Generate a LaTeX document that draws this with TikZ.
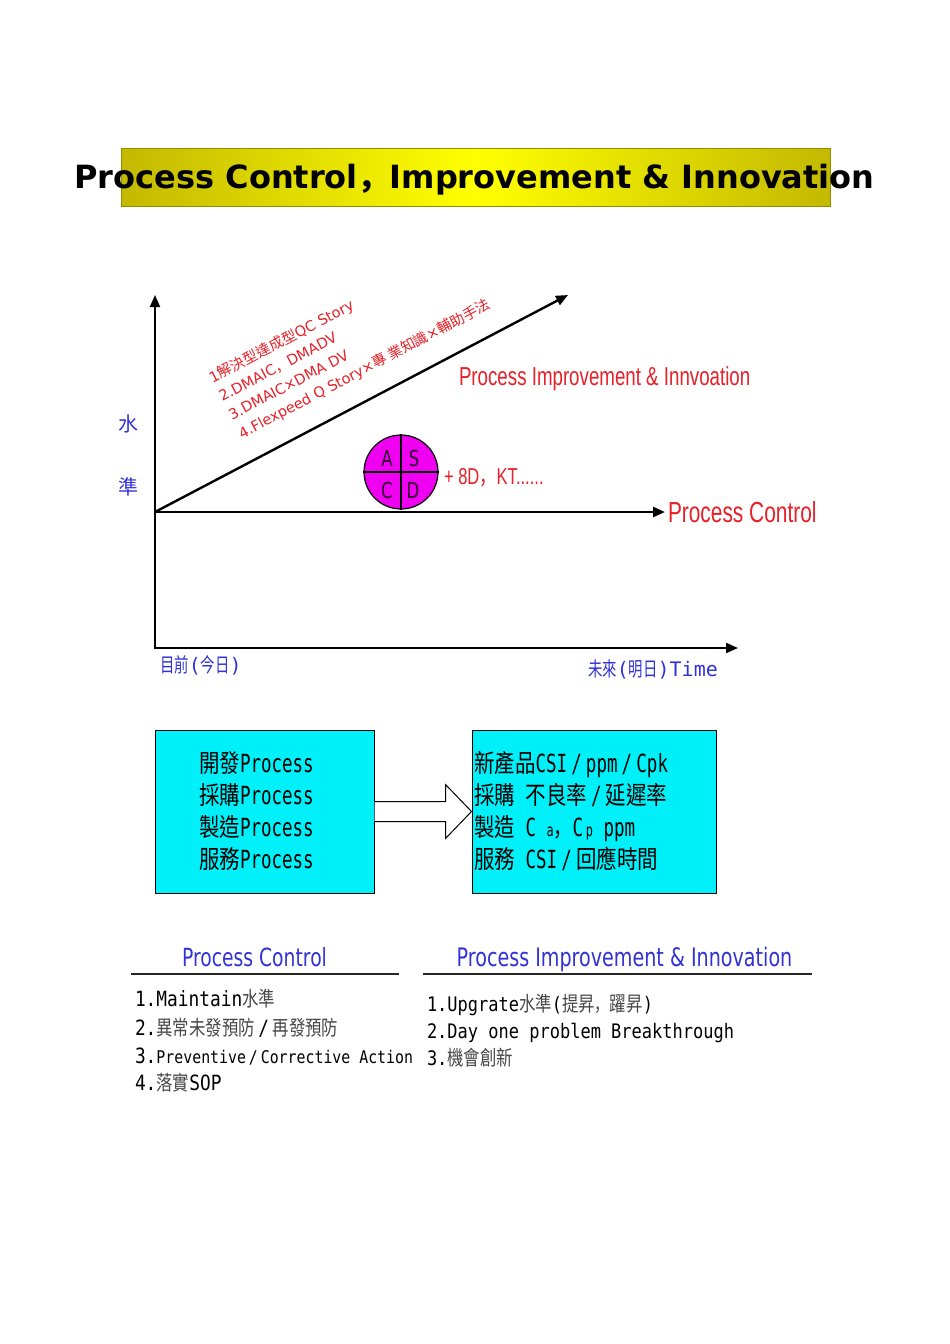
\documentclass[tikz,border=0pt]{standalone}
\usepackage{fontspec}
\usetikzlibrary{arrows.meta,calc}
\setmainfont{DejaVu Sans}
\newfontfamily\fCjk{Noto Sans CJK TC}
\newfontfamily\fCjkSC{Noto Sans CJK SC}
\newfontfamily\fCjkSCN[FakeStretch=0.75]{Noto Sans CJK SC}
\newfontfamily\fCjkN[FakeStretch=0.72]{Noto Sans CJK TC}
\newfontfamily\fCjkB[FakeStretch=0.82]{Noto Sans CJK TC}
\newfontfamily\fCjkM[FakeStretch=0.8]{Noto Sans CJK TC}
\newfontfamily\fNar[FakeStretch=0.72]{Liberation Sans}
\newfontfamily\fDVN[FakeStretch=0.75]{DejaVu Sans}
\newfontfamily\fMonoN[FakeStretch=0.7]{DejaVu Sans Mono}
\newfontfamily\fMonoL[FakeStretch=0.85]{DejaVu Sans Mono}
\newfontfamily\fMono{DejaVu Sans Mono}
\newfontfamily\fDV{DejaVu Sans}
\newcommand\zh[1]{{\fCjk #1}}
\newcommand\zn[1]{{\fCjkN #1}}
\newcommand\zb[1]{{\fCjkB #1}}
\newcommand\zcomma{{\fCjkSCN ，}}
\newcommand\zl[1]{{\fCjkM\fontsize{20.5}{22}\selectfont\color{black!72}#1}}
\definecolor{pred}{RGB}{232,32,40}
\definecolor{pblue}{RGB}{50,50,215}
\definecolor{pcyan}{RGB}{0,240,250}
\definecolor{tedge}{RGB}{195,185,0}
\definecolor{tbord}{RGB}{150,140,0}
\definecolor{pmag}{RGB}{240,0,240}
\definecolor{pdark}{RGB}{45,0,45}
\begin{document}
\begin{tikzpicture}[x=1pt,y=-1pt,
  txt/.style={inner sep=0pt, outer sep=0pt},
  axisline/.style={line width=2pt, draw=black},
  tip/.style={-{Triangle[length=12pt,width=10pt]}},
  redlab/.style={txt, anchor=base west, text=pred},
  bluelab/.style={txt, text=pblue},
  cbox/.style={draw=black, line width=1pt, fill=pcyan, minimum width=219pt, minimum height=163pt, inner sep=0pt},
  boxtext/.style={txt, anchor=base west, align=left, font=\fMonoN\fontsize{25}{32}\selectfont},
  lst/.style={txt, anchor=base west, font=\fMonoL\fontsize{21}{24}\selectfont},
  rlst/.style={txt, anchor=base west, font=\fMonoL\fontsize{20}{24}\selectfont},
  letter/.style={txt, text=pdark, font=\fDVN\fontsize{22}{24}\selectfont},
  rule/.style={line width=1.5pt, draw=black!85}
]
\useasboundingbox (0,0) rectangle (950,1344);
\fill[white] (0,0) rectangle (950,1344);

% title
\node[draw=tbord, left color=tedge, right color=tedge, middle color=yellow, minimum width=709pt, minimum height=58pt, inner sep=0pt] (tbox) at (475.5,177) {};
\node[txt, anchor=base, font=\fDV\bfseries\fontsize{32}{36}\selectfont] (title) at (474.5,188) {Process Control{\fCjkSC\bfseries ，}Improvement \& Innovation};

% axes
\coordinate (O) at (155,648);
\coordinate (Ytop) at (155,295);
\coordinate (Xend) at (738,648);
\coordinate (P0) at (155,512);
\coordinate (Pc) at (665,512);
\coordinate (Pi) at (568,295);
\draw[axisline, {Triangle[length=12pt,width=10pt]}-{Triangle[length=12pt,width=10pt]}] (Xend) -- (O) -- (Ytop);
\draw[axisline, line width=2.4pt, tip] (P0) -- (Pc);
\draw[axisline, line width=2.4pt, tip] (P0) -- (Pi);

% PDCA circle
\node[circle, draw=black, line width=1.2pt, fill=pmag, minimum size=74pt, inner sep=0pt] (pdca) at (401,472) {};
\draw[line width=1.2pt] (pdca.north) -- (pdca.south);
\draw[line width=1.2pt] (pdca.west) -- (pdca.east);
\node[letter] (lA) at (387,458) {A};
\node[letter] (lS) at (414,458) {S};
\node[letter] (lC) at (387,490) {C};
\node[letter] (lD) at (413,490) {D};

% red labels
\node[redlab, font=\fNar\fontsize{23}{25}\selectfont] (kt) at (444,484) {+ 8D\zcomma KT......};
\node[redlab, font=\fNar\fontsize{29}{32}\selectfont] (pclab) at (668,522) {Process Control};
\node[redlab, font=\fNar\fontsize{26}{30}\selectfont] (pilab) at (459,385) {Process Improvement \& Innvoation};
\node[txt, rotate=27.7, anchor=base west, align=left, text=pred, font=\fDV\fontsize{14.5}{21}\selectfont] (steps) at (242,439)
  {1\zh{解決型達成型}QC Story\\2.DMAIC{\fCjkSC ，}DMADV\\3.DMAIC×DMA DV\\4.Flexpeed Q Story×\zh{專 業知識}×\zh{輔助手法}};

% axis labels
\node[bluelab, font=\fCjk\fontsize{20}{22}\selectfont] (shui) at (128,424) {水};
\node[bluelab, font=\fCjk\fontsize{20}{22}\selectfont] (zhun) at (128,487) {準};
\node[bluelab, anchor=base west, font=\fMono\fontsize{20}{22}\selectfont] (today) at (160,672) {\zn{目前}(\zn{今日})};
\node[bluelab, anchor=base west, font=\fMono\fontsize{20}{22}\selectfont] (future) at (588,676) {\zn{未來}(\zn{明日})Time};

% boxes
\node[cbox] (lb) at (264.5,811.5) {};
\node[cbox, minimum width=244pt] (rb) at (594,811.5) {};
\node[boxtext] (lbt) at (199,868) {\zb{開發}Process\\\zb{採購}Process\\\zb{製造}Process\\\zb{服務}Process};
\node[boxtext] (rbt) at (474,868) {\zb{新產品}CSI\,/\,ppm\,/\,Cpk\\\zb{採購} \zb{不良率}\,/\,\zb{延遲率}\\\zb{製造} C {\fontsize{17}{20}\selectfont a}\zcomma C{\fontsize{17}{20}\selectfont\,p} ppm\\\zb{服務} CSI\,/\,\zb{回應時間}};
\draw[line width=1pt, fill=white]
  ($(lb.east)+(0,-10)$) -- ($(rb.west)+(-26,-10)$) -- ($(rb.west)+(-26,-27)$) -- (rb.west)
  -- ($(rb.west)+(-26,27)$) -- ($(rb.west)+(-26,10)$) -- ($(lb.east)+(0,10)$);

% bottom headers
\node[bluelab, anchor=base, font=\fDVN\fontsize{25}{28}\selectfont] (hpc) at (254.5,966) {Process Control};
\node[bluelab, anchor=base, font=\fDVN\fontsize{25.5}{28}\selectfont] (hpi) at (624.5,966) {Process Improvement \& Innovation};
\coordinate (r1a) at (131,974);
\coordinate (r1b) at (399,974);
\coordinate (r2a) at (423,974);
\coordinate (r2b) at (812,974);
\draw[rule] (r1a) -- (r1b);
\draw[rule] (r2a) -- (r2b);

% lists
\node[lst] (l1) at (135,1006) {1.Maintain\zl{水準}};
\node[lst] (l2) at (135,1035) {2.\zl{異常未發預防}\,/\,\zl{再發預防}};
\node[lst] (l3) at (135,1063) {3.{\fontsize{17.5}{20}\selectfont Preventive\,/\,Corrective Action}};
\node[lst] (l4) at (135,1090) {4.\zl{落實}SOP};
\node[rlst] (r1) at (427,1011) {1.Upgrate\zl{水準}(\zl{提昇}{\fCjkSCN\color{black!72}，}\zl{躍昇})};
\node[rlst] (r2) at (427,1038) {2.Day one problem Breakthrough};
\node[rlst] (r3) at (427,1065) {3.\zl{機會創新}};
\end{tikzpicture}
\end{document}
